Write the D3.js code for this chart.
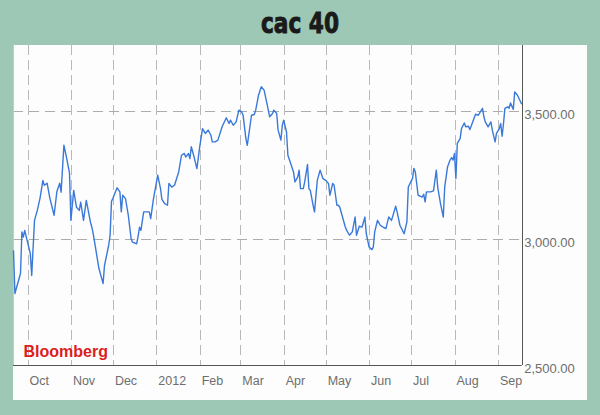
<!DOCTYPE html>
<html>
<head>
<meta charset="utf-8">
<script src="https://cdn.jsdelivr.net/npm/d3@7"></script>
<style>
  html, body { margin: 0; padding: 0; background: #9cc8b5; }
  svg { display: block; }
</style>
</head>
<body>
<svg id="chart" width="600" height="415"></svg>
<script>
// ---- data ----
const titleText = "cac 40";
const sourceText = "Bloomberg";

const dates = [
"2011-09-21","2011-09-22","2011-09-26","2011-09-27","2011-09-28","2011-09-29","2011-10-03","2011-10-04","2011-10-06","2011-10-08",
"2011-10-10","2011-10-12","2011-10-13","2011-10-15","2011-10-17","2011-10-20","2011-10-22","2011-10-24","2011-10-25","2011-10-27",
"2011-10-29","2011-10-31","2011-11-01","2011-11-03","2011-11-05","2011-11-07","2011-11-08","2011-11-10","2011-11-12","2011-11-15",
"2011-11-16","2011-11-17","2011-11-21","2011-11-24","2011-11-25","2011-11-28","2011-11-29","2011-11-30","2011-12-01","2011-12-04",
"2011-12-06","2011-12-07","2011-12-08","2011-12-10","2011-12-12","2011-12-14","2011-12-15","2011-12-18","2011-12-19","2011-12-20",
"2011-12-21","2011-12-23","2011-12-25","2011-12-27","2011-12-28","2011-12-30","2012-01-02","2012-01-03","2012-01-04","2012-01-05",
"2012-01-07","2012-01-09","2012-01-10","2012-01-12","2012-01-14","2012-01-17","2012-01-19","2012-01-21","2012-01-22","2012-01-24",
"2012-01-25","2012-01-26","2012-01-28","2012-01-30","2012-02-01","2012-02-03","2012-02-05","2012-02-07","2012-02-09","2012-02-10",
"2012-02-12","2012-02-14","2012-02-17","2012-02-20","2012-02-22","2012-02-23","2012-02-25","2012-02-27","2012-02-29","2012-03-02",
"2012-03-03","2012-03-05","2012-03-06","2012-03-08","2012-03-09","2012-03-11","2012-03-12","2012-03-14","2012-03-16","2012-03-18",
"2012-03-20","2012-03-22","2012-03-24","2012-03-25","2012-03-27","2012-03-28","2012-03-30","2012-03-31","2012-04-01","2012-04-03",
"2012-04-04","2012-04-06","2012-04-08","2012-04-09","2012-04-11","2012-04-12","2012-04-13","2012-04-15","2012-04-16","2012-04-18",
"2012-04-19","2012-04-20","2012-04-22","2012-04-23","2012-04-25","2012-04-27","2012-04-29","2012-05-01","2012-05-03","2012-05-04",
"2012-05-06","2012-05-07","2012-05-09","2012-05-10","2012-05-11","2012-05-13","2012-05-15","2012-05-16","2012-05-18","2012-05-20",
"2012-05-22","2012-05-23","2012-05-25","2012-05-27","2012-05-29","2012-05-30","2012-06-01","2012-06-03","2012-06-04","2012-06-05",
"2012-06-07","2012-06-09","2012-06-11","2012-06-13","2012-06-15","2012-06-17","2012-06-20","2012-06-21","2012-06-23","2012-06-26",
"2012-06-28","2012-06-29","2012-07-02","2012-07-03","2012-07-04","2012-07-06","2012-07-09","2012-07-10","2012-07-11","2012-07-12",
"2012-07-15","2012-07-17","2012-07-19","2012-07-20","2012-07-22","2012-07-24","2012-07-25","2012-07-27","2012-07-29","2012-07-30",
"2012-07-31","2012-08-01","2012-08-02","2012-08-03","2012-08-05","2012-08-06","2012-08-08","2012-08-09","2012-08-11","2012-08-12",
"2012-08-14","2012-08-16","2012-08-18","2012-08-21","2012-08-22","2012-08-23","2012-08-25","2012-08-27","2012-08-28","2012-08-30",
"2012-08-31","2012-09-02","2012-09-03","2012-09-04","2012-09-05","2012-09-06","2012-09-08","2012-09-09","2012-09-10","2012-09-12",
"2012-09-13","2012-09-15","2012-09-16","2012-09-18"
];

const values = [
2957,2789,2867,3029,3009,3035,2945,2859,3074,3113,
3162,3230,3211,3219,3160,3094,3187,3219,3184,3367,
3316,3258,3074,3191,3125,3113,3145,3074,3152,3066,
3047,3020,2887,2828,2898,2977,3016,3148,3160,3201,
3185,3107,3172,3159,3094,3003,2989,2983,3012,3047,
3035,3107,3107,3107,3081,3159,3250,3224,3199,3156,
3139,3133,3218,3204,3211,3263,3328,3335,3321,3335,
3315,3361,3321,3276,3361,3432,3413,3426,3406,3380,
3380,3387,3439,3474,3452,3465,3445,3458,3504,3497,
3484,3393,3367,3445,3484,3487,3504,3562,3595,3582,
3530,3478,3491,3504,3491,3426,3387,3445,3465,3419,
3328,3296,3263,3224,3243,3270,3198,3198,3224,3292,
3198,3191,3133,3107,3230,3270,3237,3230,3218,3172,
3218,3211,3133,3133,3126,3087,3048,3035,3016,3029,
3087,3016,3051,3048,3087,3022,2970,2960,2970,3029,
3074,3055,3048,3042,3087,3074,3129,3107,3055,3022,
3068,3204,3238,3277,3263,3172,3165,3176,3146,3185,
3185,3189,3270,3204,3139,3087,3204,3282,3311,3319,
3309,3335,3237,3374,3393,3432,3454,3439,3441,3428,
3458,3488,3484,3511,3478,3458,3439,3458,3426,3380,
3413,3432,3452,3402,3452,3511,3517,3511,3532,3507,
3575,3562,3550,3527
];

const monthTicks = ["2011-10-01","2011-11-01","2011-12-01","2012-01-01","2012-02-01","2012-03-01",
                    "2012-04-01","2012-05-01","2012-06-01","2012-07-01","2012-08-01","2012-09-01"];
const monthLabels = ["Oct","Nov","Dec","2012","Feb","Mar","Apr","May","Jun","Jul","Aug","Sep"];
const yTicks = [2500, 3000, 3500];
const yGrid = [3000, 3500];

// ---- drawing ----
const parse = d3.timeParse("%Y-%m-%d");
const series = dates.map((d, i) => ({ date: parse(d), value: values[i] }));

const W = 600, H = 415;
const plot = { left: 13, right: 521.7, top: 45, bottom: 365 };

const svg = d3.select("#chart");

svg.append("rect").attr("x", 0).attr("y", 0).attr("width", W).attr("height", H).attr("fill", "#9cc8b5");
svg.append("rect").attr("x", 13).attr("y", 45).attr("width", 574).attr("height", 355).attr("fill", "#fcfdfc");

svg.append("text")
  .attr("x", 300).attr("y", 33)
  .attr("text-anchor", "middle")
  .attr("font-family", "'Liberation Sans Narrow', 'DejaVu Sans Condensed', 'Roboto Condensed', sans-serif")
  .attr("font-weight", "bold")
  .attr("font-size", 29)
  .attr("fill", "#1a1a1a")
  .attr("stroke", "#1a1a1a")
  .attr("stroke-width", 0.9)
  .attr("textLength", 78)
  .attr("lengthAdjust", "spacingAndGlyphs")
  .text(titleText);

const x = d3.scaleTime()
  .domain(d3.extent(series, d => d.date))
  .range([plot.left + 0.5, plot.right]);

const y = d3.scaleLinear()
  .domain([2510, 3758])
  .range([plot.bottom, plot.top]);

// vertical month gridlines
svg.append("g").selectAll("line")
  .data(monthTicks.map(parse))
  .join("line")
  .attr("x1", d => Math.round(x(d)) + 0.5)
  .attr("x2", d => Math.round(x(d)) + 0.5)
  .attr("y1", plot.top)
  .attr("y2", plot.bottom)
  .attr("stroke", "#b9b9b9")
  .attr("stroke-width", 1)
  .attr("stroke-dasharray", "10,5");

// horizontal gridlines
svg.append("g").selectAll("line")
  .data(yGrid)
  .join("line")
  .attr("x1", plot.left)
  .attr("x2", plot.right)
  .attr("y1", d => Math.round(y(d)) + 0.5)
  .attr("y2", d => Math.round(y(d)) + 0.5)
  .attr("stroke", "#acacac")
  .attr("stroke-width", 1.2)
  .attr("stroke-dasharray", "10,6");

// left border
svg.append("line")
  .attr("x1", plot.left + 0.5).attr("x2", plot.left + 0.5)
  .attr("y1", plot.top).attr("y2", plot.bottom)
  .attr("stroke", "#c9c9c9");

// data line
const line = d3.line()
  .x(d => x(d.date))
  .y(d => y(d.value));

svg.append("path")
  .datum(series)
  .attr("fill", "none")
  .attr("stroke", "#3a79da")
  .attr("stroke-width", 1.4)
  .attr("stroke-linejoin", "round")
  .attr("d", line);

// axes lines
svg.append("line")
  .attr("x1", plot.left).attr("x2", plot.right)
  .attr("y1", plot.bottom + 0.5).attr("y2", plot.bottom + 0.5)
  .attr("stroke", "#555");
svg.append("line")
  .attr("x1", Math.round(plot.right) + 0.5).attr("x2", Math.round(plot.right) + 0.5)
  .attr("y1", plot.top).attr("y2", plot.bottom)
  .attr("stroke", "#555");

// x labels
svg.append("g").selectAll("text")
  .data(monthTicks.map((d, i) => ({ date: parse(d), label: monthLabels[i] })))
  .join("text")
  .attr("x", d => x(d.date) + 2)
  .attr("y", 385)
  .attr("font-family", "'Liberation Sans', Arial, sans-serif")
  .attr("font-size", 12.5)
  .attr("fill", "#6e6e6e")
  .text(d => d.label);

// y labels
const fmt = d3.format(",.2f");
svg.append("g").selectAll("text")
  .data(yTicks)
  .join("text")
  .attr("x", plot.right + 2.5)
  .attr("y", d => y(Math.max(d, y.domain()[0])) + 8)
  .attr("font-family", "'Liberation Sans', Arial, sans-serif")
  .attr("font-size", 13)
  .attr("fill", "#6e6e6e")
  .text(d => fmt(d));

// source
svg.append("text")
  .attr("x", 23.5).attr("y", 357)
  .attr("font-family", "'Liberation Sans', Arial, sans-serif")
  .attr("font-weight", "bold")
  .attr("font-size", 16)
  .attr("fill", "#dd1e1e")
  .text(sourceText);
</script>
</body>
</html>
